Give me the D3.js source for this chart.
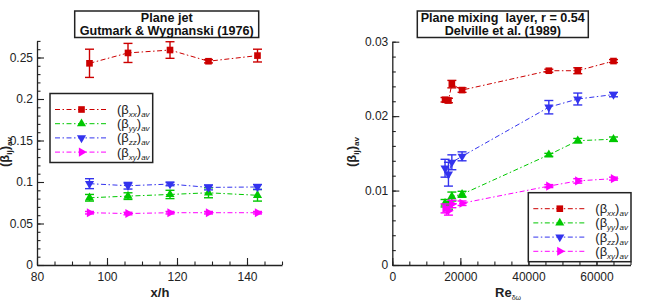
<!DOCTYPE html>
<html>
<head>
<meta charset="utf-8">
<script src="https://cdn.jsdelivr.net/npm/d3@7"></script>
<style>
  body { margin: 0; background: #fff; }
  svg { display: block; font-family: "Liberation Sans", Arial, sans-serif; }
</style>
</head>
<body>
<svg id="chart" width="649" height="300"></svg>
<script>
// ---- data: plane jet (Gutmark & Wygnanski 1976) ----
const jetX = [95, 106, 118, 129, 143];
const jetXX = [0.243, 0.2555, 0.259, 0.2455, 0.2523];
const jetXXErr = [0.017, 0.0115, 0.010, 0.002, 0.0077];
const jetYY = [0.081, 0.083, 0.085, 0.087, 0.084];
const jetYYErr = [0.004, 0.004, 0.005, 0.006, 0.007];
const jetZZ = [0.098, 0.0955, 0.0975, 0.0935, 0.094];
const jetZZErr = [0.006, 0.004, 0.002, 0.003, 0.003];
const jetXY = [0.063, 0.062, 0.063, 0.063, 0.063];
const jetXYErr = [0.0015, 0.0015, 0.0015, 0.0015, 0.0015];

// ---- data: plane mixing layer (Delville et al. 1989) ----
const mixRe = [15500, 16500, 17500, 20500, 46000, 54500, 65000];
const mixXX = [0.0222, 0.0221, 0.0243, 0.0235, 0.0261, 0.0261, 0.0274];
const mixXXErr = [0.0003, 0.0003, 0.0005, 0.0003, 0.0002, 0.0004, 0.0002];
const mixYY = [0.0083, 0.0080, 0.0092, 0.0095, 0.0148, 0.0167, 0.0169];
const mixYYErr = [0.0005, 0.0005, 0.0006, 0.0004, 0.0002, 0.0003, 0.0003];
const mixZZ = [0.0130, 0.0122, 0.0138, 0.0146, 0.0212, 0.0223, 0.0229];
const mixZZErr = [0.0012, 0.0016, 0.0010, 0.0006, 0.0009, 0.0008, 0.0003];
const mixXY = [0.0076, 0.0073, 0.0082, 0.0083, 0.0106, 0.0113, 0.0116];
const mixXYErr = [0.0006, 0.0006, 0.0005, 0.0003, 0.0002, 0.0003, 0.0002];

// ---- series labels / styles ----
const seriesSub = ["xx", "yy", "zz", "xy"];
const seriesColor = ["#cc0000", "#00c800", "#3333ee", "#ff00ff"];
const seriesSymbol = [d3.symbolSquare, d3.symbolTriangle, d3.symbolTriangle, d3.symbolTriangle];
const seriesRotate = [0, 0, 180, 90];

// ---- axis ticks ----
const jetXTicks = [80, 100, 120, 140];
const jetXLabels = ["80", "100", "120", "140"];
const jetYTicks = [0, 0.05, 0.1, 0.15, 0.2, 0.25];
const jetYLabels = ["0", "0.05", "0.1", "0.15", "0.2", "0.25"];
const mixXTicks = [0, 20000, 40000, 60000];
const mixXLabels = ["0", "20000", "40000", "60000"];
const mixYTicks = [0, 0.01, 0.02, 0.03];
const mixYLabels = ["0", "0.01", "0.02", "0.03"];

const svg = d3.select("#chart");
const dash = "5,2.5,1.5,2.5";

function drawPanel(p) {
  const x = d3.scaleLinear().domain(p.xDomain).range(p.xRange);
  const y = d3.scaleLinear().domain(p.yDomain).range(p.yRange);
  const g = svg.append("g");

  // minor ticks
  g.append("g")
    .attr("transform", `translate(0,${p.yRange[0]})`)
    .call(d3.axisBottom(x).tickValues(p.xMinor).tickSize(-3.5).tickSizeOuter(0).tickFormat(""))
    .call(a => a.select(".domain").remove());
  g.append("g")
    .attr("transform", `translate(${p.xRange[0]},0)`)
    .call(d3.axisLeft(y).tickValues(p.yMinor).tickSize(-3.5).tickSizeOuter(0).tickFormat(""))
    .call(a => a.select(".domain").remove());

  // major axes
  const xa = g.append("g")
    .attr("transform", `translate(0,${p.yRange[0]})`)
    .call(d3.axisBottom(x).tickValues(p.xTicks).tickSize(-7).tickSizeOuter(0)
      .tickPadding(7).tickFormat((d, i) => p.xLabels[i]));
  const ya = g.append("g")
    .attr("transform", `translate(${p.xRange[0]},0)`)
    .call(d3.axisLeft(y).tickValues(p.yTicks).tickSize(-7).tickSizeOuter(0)
      .tickPadding(4).tickFormat((d, i) => p.yLabels[i]));
  [xa, ya].forEach(a => {
    a.selectAll("text").attr("font-size", 12).attr("fill", "#222");
    a.selectAll("line, path").attr("stroke", "#222").attr("stroke-width", 1.3);
  });
  g.selectAll(".tick line").attr("stroke", "#222").attr("stroke-width", 1.1);

  // series
  p.series.forEach((s, k) => {
    const pts = p.xs.map((xv, i) => ({x: xv, y: s.v[i], e: s.e[i]}));
    const col = seriesColor[k];
    g.append("path")
      .datum(pts)
      .attr("fill", "none")
      .attr("stroke", col)
      .attr("stroke-width", 1)
      .attr("stroke-dasharray", dash)
      .attr("d", d3.line().x(d => x(d.x)).y(d => y(d.y)));
    const eb = g.append("g").attr("stroke", col).attr("stroke-width", 1.4);
    eb.selectAll("line.v").data(pts).join("line")
      .attr("x1", d => x(d.x)).attr("x2", d => x(d.x))
      .attr("y1", d => y(d.y - d.e)).attr("y2", d => y(d.y + d.e));
    eb.selectAll("line.t").data(pts).join("line")
      .attr("x1", d => x(d.x) - 4.5).attr("x2", d => x(d.x) + 4.5)
      .attr("y1", d => y(d.y + d.e)).attr("y2", d => y(d.y + d.e));
    eb.selectAll("line.b").data(pts).join("line")
      .attr("x1", d => x(d.x) - 4.5).attr("x2", d => x(d.x) + 4.5)
      .attr("y1", d => y(d.y - d.e)).attr("y2", d => y(d.y - d.e));
    g.append("g").selectAll("path").data(pts).join("path")
      .attr("d", d3.symbol().type(seriesSymbol[k]).size(k === 0 ? 44 : 36))
      .attr("transform", d => `translate(${x(d.x)},${y(d.y)}) rotate(${seriesRotate[k]})`)
      .attr("fill", col);
  });

  // title box
  const t = svg.append("g");
  t.append("rect")
    .attr("x", p.title.x).attr("y", 11).attr("width", p.title.w).attr("height", 26.5)
    .attr("fill", "#fff").attr("stroke", "#222").attr("stroke-width", 1.5);
  p.title.lines.forEach((line, i) => {
    t.append("text")
      .attr("x", p.title.x + p.title.w / 2).attr("y", 21.8 + i * 13.4)
      .attr("text-anchor", "middle").attr("font-size", 12.6).attr("font-weight", "bold")
      .style("white-space", "pre")
      .attr("fill", "#111").text(line);
  });

  // legend
  const lg = svg.append("g").attr("transform", `translate(${p.legend.x},${p.legend.y})`);
  lg.append("rect").attr("width", 102.7).attr("height", 69)
    .attr("fill", "#fff").attr("stroke", "#222").attr("stroke-width", 1.5);
  seriesSub.forEach((sub, k) => {
    const ry = 16 + k * 14.2;
    lg.append("line").attr("x1", 5).attr("x2", 58.5).attr("y1", ry).attr("y2", ry)
      .attr("stroke", seriesColor[k]).attr("stroke-width", 1).attr("stroke-dasharray", dash);
    lg.append("path")
      .attr("d", d3.symbol().type(seriesSymbol[k]).size(k === 0 ? 44 : 36))
      .attr("transform", `translate(31.5,${ry}) rotate(${seriesRotate[k]})`)
      .attr("fill", seriesColor[k]);
    const tx = lg.append("text").attr("x", 67).attr("y", ry + 4.5)
      .attr("font-size", 13).attr("fill", "#222");
    tx.append("tspan").text("(β");
    tx.append("tspan").attr("font-size", 8).attr("font-style", "italic").attr("dy", 3).text(sub);
    tx.append("tspan").attr("dy", -3).text(")");
    tx.append("tspan").attr("font-size", 8).attr("font-style", "italic").attr("dy", 3).text("av");
  });

  // y label
  const yl = svg.append("text")
    .attr("transform", `translate(${p.yLabelX},152) rotate(-90)`)
    .attr("text-anchor", "middle").attr("font-size", 13).attr("font-weight", "bold").attr("fill", "#222");
  yl.append("tspan").text("(β");
  yl.append("tspan").attr("font-size", 8).attr("dy", 3).text("ij");
  yl.append("tspan").attr("dy", -3).text(")");
  yl.append("tspan").attr("font-size", 8).attr("dy", 3).text("av");

  // x label
  const xl = svg.append("text")
    .attr("x", p.xLabelX).attr("y", 296.5)
    .attr("text-anchor", "middle").attr("font-size", 13).attr("font-weight", "bold").attr("fill", "#222");
  xl.append("tspan").text(p.xLabel);
  if (p.xLabelSub) xl.append("tspan").attr("font-size", 7).attr("font-weight", "normal").attr("dy", 3).text(p.xLabelSub);
}

drawPanel({
  xDomain: [80, 150], xRange: [37, 282],
  yDomain: [0, 0.27], yRange: [265, 40.9],
  xTicks: jetXTicks, xLabels: jetXLabels, xMinor: d3.range(80, 151, 5),
  yTicks: jetYTicks, yLabels: jetYLabels, yMinor: d3.range(0, 0.2701, 0.01),
  xs: jetX,
  series: [
    {v: jetXX, e: jetXXErr}, {v: jetYY, e: jetYYErr},
    {v: jetZZ, e: jetZZErr}, {v: jetXY, e: jetXYErr}
  ],
  title: {x: 74.7, w: 184, lines: ["Plane jet", "Gutmark & Wygnanski (1976)"]},
  legend: {x: 50, y: 93.5},
  yLabelX: 9, xLabelX: 160, xLabel: "x/h"
});

drawPanel({
  xDomain: [0, 70000], xRange: [392.3, 630.5],
  yDomain: [0, 0.03], yRange: [265, 41.7],
  xTicks: mixXTicks, xLabels: mixXLabels, xMinor: d3.range(0, 70001, 5000),
  yTicks: mixYTicks, yLabels: mixYLabels, yMinor: d3.range(0, 0.03001, 0.002),
  xs: mixRe,
  series: [
    {v: mixXX, e: mixXXErr}, {v: mixYY, e: mixYYErr},
    {v: mixZZ, e: mixZZErr}, {v: mixXY, e: mixXYErr}
  ],
  title: {x: 417.3, w: 171, lines: ["Plane mixing  layer, r = 0.54", "Delville et al. (1989)"]},
  legend: {x: 528.3, y: 192.7},
  yLabelX: 356, xLabelX: 508, xLabel: "Re", xLabelSub: "δω"
});
</script>
</body>
</html>
